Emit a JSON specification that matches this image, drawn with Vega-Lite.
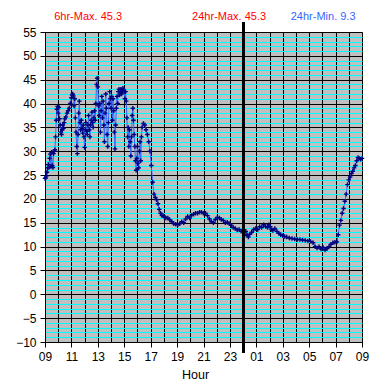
{
  "$schema": "https://vega.github.io/schema/vega-lite/v6.json",
  "width": 317,
  "height": 310,
  "autosize": "none",
  "padding": {"left": 45, "top": 32, "right": 23, "bottom": 46},
  "background": "white",
  "config": {
    "view": {"fill": "#C0C0C0", "stroke": "#808080", "strokeWidth": 1},
    "font": "Liberation Sans"
  },
  "data": {"values": [
    {"h": 9.00, "t": 24.3}, {"h": 9.05, "t": 24.4}, {"h": 9.10, "t": 24.8}, {"h": 9.15, "t": 25.6}, {"h": 9.20, "t": 26.5},
    {"h": 9.25, "t": 27.2}, {"h": 9.30, "t": 26.6}, {"h": 9.35, "t": 28.5}, {"h": 9.40, "t": 29.4}, {"h": 9.45, "t": 26.8},
    {"h": 9.50, "t": 29.8}, {"h": 9.55, "t": 27.0}, {"h": 9.60, "t": 26.6}, {"h": 9.65, "t": 29.5}, {"h": 9.70, "t": 30.0},
    {"h": 9.75, "t": 30.3}, {"h": 9.80, "t": 33.0}, {"h": 9.85, "t": 36.5}, {"h": 9.90, "t": 38.8}, {"h": 9.95, "t": 39.4},
    {"h": 10.00, "t": 38.0}, {"h": 10.05, "t": 39.2}, {"h": 10.10, "t": 36.8}, {"h": 10.15, "t": 35.5}, {"h": 10.20, "t": 34.0},
    {"h": 10.25, "t": 33.5}, {"h": 10.30, "t": 34.5}, {"h": 10.35, "t": 35.5}, {"h": 10.40, "t": 34.8}, {"h": 10.45, "t": 36.0},
    {"h": 10.50, "t": 36.8}, {"h": 10.58, "t": 37.2}, {"h": 10.67, "t": 38.0}, {"h": 10.75, "t": 38.5}, {"h": 10.83, "t": 39.0},
    {"h": 10.92, "t": 40.0}, {"h": 11.00, "t": 41.2}, {"h": 11.05, "t": 41.8}, {"h": 11.10, "t": 42.0}, {"h": 11.15, "t": 41.6},
    {"h": 11.20, "t": 39.5}, {"h": 11.25, "t": 41.0}, {"h": 11.30, "t": 37.0}, {"h": 11.35, "t": 34.0}, {"h": 11.40, "t": 31.0},
    {"h": 11.45, "t": 29.5}, {"h": 11.50, "t": 33.5}, {"h": 11.55, "t": 38.0}, {"h": 11.60, "t": 40.5}, {"h": 11.65, "t": 36.0},
    {"h": 11.70, "t": 34.5}, {"h": 11.75, "t": 36.5}, {"h": 11.80, "t": 34.8}, {"h": 11.85, "t": 33.8}, {"h": 11.90, "t": 35.5},
    {"h": 11.95, "t": 33.0}, {"h": 12.00, "t": 30.8}, {"h": 12.05, "t": 34.5}, {"h": 12.10, "t": 36.0}, {"h": 12.15, "t": 34.2},
    {"h": 12.20, "t": 33.5}, {"h": 12.25, "t": 35.5}, {"h": 12.30, "t": 37.5}, {"h": 12.35, "t": 34.5}, {"h": 12.40, "t": 33.0},
    {"h": 12.45, "t": 35.5}, {"h": 12.50, "t": 36.5}, {"h": 12.55, "t": 38.2}, {"h": 12.60, "t": 36.0}, {"h": 12.65, "t": 35.0},
    {"h": 12.70, "t": 37.0}, {"h": 12.75, "t": 38.5}, {"h": 12.80, "t": 36.5}, {"h": 12.85, "t": 40.0}, {"h": 12.90, "t": 44.0},
    {"h": 12.95, "t": 45.3}, {"h": 13.00, "t": 43.5}, {"h": 13.05, "t": 39.5}, {"h": 13.10, "t": 37.5}, {"h": 13.15, "t": 40.0},
    {"h": 13.20, "t": 34.0}, {"h": 13.25, "t": 38.5}, {"h": 13.30, "t": 41.5}, {"h": 13.35, "t": 37.0}, {"h": 13.40, "t": 40.5},
    {"h": 13.45, "t": 35.5}, {"h": 13.50, "t": 32.0}, {"h": 13.55, "t": 38.0}, {"h": 13.60, "t": 42.0}, {"h": 13.65, "t": 39.0},
    {"h": 13.70, "t": 33.5}, {"h": 13.75, "t": 31.0}, {"h": 13.80, "t": 36.0}, {"h": 13.85, "t": 40.0}, {"h": 13.90, "t": 42.5},
    {"h": 13.95, "t": 41.0}, {"h": 14.00, "t": 39.0}, {"h": 14.05, "t": 41.5}, {"h": 14.10, "t": 36.5}, {"h": 14.15, "t": 41.0},
    {"h": 14.20, "t": 38.5}, {"h": 14.25, "t": 34.0}, {"h": 14.30, "t": 30.5}, {"h": 14.35, "t": 35.5}, {"h": 14.40, "t": 39.0},
    {"h": 14.45, "t": 41.5}, {"h": 14.50, "t": 40.0}, {"h": 14.55, "t": 42.5}, {"h": 14.60, "t": 43.0}, {"h": 14.65, "t": 41.8},
    {"h": 14.70, "t": 42.5}, {"h": 14.75, "t": 43.0}, {"h": 14.80, "t": 42.0}, {"h": 14.85, "t": 42.5}, {"h": 14.90, "t": 43.2},
    {"h": 14.95, "t": 42.8}, {"h": 15.00, "t": 42.5}, {"h": 15.05, "t": 41.0}, {"h": 15.10, "t": 42.5}, {"h": 15.15, "t": 40.5},
    {"h": 15.20, "t": 37.0}, {"h": 15.25, "t": 33.0}, {"h": 15.30, "t": 35.0}, {"h": 15.35, "t": 31.0}, {"h": 15.40, "t": 34.5},
    {"h": 15.45, "t": 32.0}, {"h": 15.50, "t": 29.0}, {"h": 15.55, "t": 33.0}, {"h": 15.60, "t": 37.5}, {"h": 15.65, "t": 39.0},
    {"h": 15.70, "t": 36.5}, {"h": 15.75, "t": 33.5}, {"h": 15.80, "t": 31.0}, {"h": 15.85, "t": 28.0}, {"h": 15.90, "t": 26.0},
    {"h": 15.95, "t": 28.5}, {"h": 16.00, "t": 31.0}, {"h": 16.05, "t": 27.5}, {"h": 16.10, "t": 26.5}, {"h": 16.15, "t": 30.0},
    {"h": 16.20, "t": 32.0}, {"h": 16.25, "t": 28.0}, {"h": 16.30, "t": 33.0}, {"h": 16.35, "t": 35.0}, {"h": 16.45, "t": 35.8},
    {"h": 16.55, "t": 35.5}, {"h": 16.65, "t": 34.5}, {"h": 16.75, "t": 33.5}, {"h": 16.85, "t": 32.0}, {"h": 16.95, "t": 30.0},
    {"h": 17.05, "t": 27.0}, {"h": 17.15, "t": 23.5}, {"h": 17.25, "t": 21.0}, {"h": 17.35, "t": 20.3}, {"h": 17.45, "t": 19.8},
    {"h": 17.55, "t": 19.0}, {"h": 17.65, "t": 17.8}, {"h": 17.75, "t": 17.0}, {"h": 17.85, "t": 16.5}, {"h": 17.95, "t": 16.5},
    {"h": 18.05, "t": 16.2}, {"h": 18.15, "t": 16.0}, {"h": 18.30, "t": 16.0}, {"h": 18.45, "t": 15.6}, {"h": 18.60, "t": 15.2},
    {"h": 18.75, "t": 14.8}, {"h": 18.90, "t": 14.7}, {"h": 19.05, "t": 14.6}, {"h": 19.20, "t": 14.8}, {"h": 19.35, "t": 15.2},
    {"h": 19.50, "t": 15.0}, {"h": 19.65, "t": 15.8}, {"h": 19.80, "t": 16.3}, {"h": 19.95, "t": 16.0}, {"h": 20.10, "t": 16.6},
    {"h": 20.25, "t": 16.8}, {"h": 20.40, "t": 17.0}, {"h": 20.55, "t": 17.0}, {"h": 20.70, "t": 17.2}, {"h": 20.85, "t": 17.2},
    {"h": 21.00, "t": 17.0}, {"h": 21.15, "t": 17.0}, {"h": 21.30, "t": 16.5}, {"h": 21.45, "t": 15.8}, {"h": 21.60, "t": 15.2},
    {"h": 21.75, "t": 15.0}, {"h": 21.90, "t": 15.7}, {"h": 22.05, "t": 16.1}, {"h": 22.20, "t": 16.0}, {"h": 22.35, "t": 15.7},
    {"h": 22.50, "t": 15.5}, {"h": 22.65, "t": 15.0}, {"h": 22.80, "t": 15.1}, {"h": 22.95, "t": 14.8}, {"h": 23.10, "t": 14.5},
    {"h": 23.25, "t": 14.0}, {"h": 23.40, "t": 13.8}, {"h": 23.55, "t": 13.5}, {"h": 23.70, "t": 13.6}, {"h": 23.85, "t": 13.2},
    {"h": 24.00, "t": 13.0}, {"h": 24.10, "t": 12.3}, {"h": 24.20, "t": 13.2}, {"h": 24.30, "t": 12.5}, {"h": 24.40, "t": 12.0},
    {"h": 24.50, "t": 12.6}, {"h": 24.65, "t": 13.0}, {"h": 24.80, "t": 13.6}, {"h": 24.95, "t": 13.8}, {"h": 25.10, "t": 13.6},
    {"h": 25.25, "t": 14.2}, {"h": 25.40, "t": 14.0}, {"h": 25.55, "t": 14.6}, {"h": 25.70, "t": 14.2}, {"h": 25.85, "t": 14.0},
    {"h": 25.95, "t": 14.6}, {"h": 26.05, "t": 14.2}, {"h": 26.15, "t": 13.6}, {"h": 26.25, "t": 13.4}, {"h": 26.40, "t": 13.8},
    {"h": 26.55, "t": 13.2}, {"h": 26.70, "t": 12.8}, {"h": 26.85, "t": 12.5}, {"h": 27.00, "t": 12.3}, {"h": 27.15, "t": 12.1},
    {"h": 27.30, "t": 12.0}, {"h": 27.50, "t": 11.8}, {"h": 27.70, "t": 11.7}, {"h": 27.90, "t": 11.6}, {"h": 28.10, "t": 11.5},
    {"h": 28.30, "t": 11.5}, {"h": 28.50, "t": 11.4}, {"h": 28.70, "t": 11.3}, {"h": 28.90, "t": 11.2}, {"h": 29.10, "t": 11.1},
    {"h": 29.30, "t": 10.8}, {"h": 29.45, "t": 10.0}, {"h": 29.60, "t": 9.7}, {"h": 29.75, "t": 10.0}, {"h": 29.90, "t": 9.5},
    {"h": 30.05, "t": 9.8}, {"h": 30.20, "t": 9.3}, {"h": 30.35, "t": 9.6}, {"h": 30.50, "t": 10.0}, {"h": 30.65, "t": 10.5},
    {"h": 30.80, "t": 10.8}, {"h": 30.95, "t": 10.9}, {"h": 31.10, "t": 11.0}, {"h": 31.20, "t": 12.5}, {"h": 31.30, "t": 14.5},
    {"h": 31.40, "t": 15.5}, {"h": 31.50, "t": 17.0}, {"h": 31.60, "t": 18.0}, {"h": 31.70, "t": 19.5}, {"h": 31.80, "t": 21.0},
    {"h": 31.90, "t": 23.0}, {"h": 32.00, "t": 24.0}, {"h": 32.10, "t": 24.6}, {"h": 32.20, "t": 25.3}, {"h": 32.30, "t": 25.8},
    {"h": 32.40, "t": 26.5}, {"h": 32.50, "t": 27.0}, {"h": 32.60, "t": 28.0}, {"h": 32.70, "t": 28.7}, {"h": 32.80, "t": 28.5},
    {"h": 32.90, "t": 28.3}, {"h": 33.00, "t": 28.5}
  ]},
  "layer": [
    {
      "mark": {"type": "line", "color": "#3366FF", "strokeWidth": 1},
      "encoding": {
        "x": {
          "field": "h", "type": "quantitative",
          "scale": {"domain": [9, 33], "nice": false, "zero": false},
          "axis": {
            "orient": "top", "values": [12.23, 22.9, 30.02],
            "labelExpr": "datum.value < 15 ? '6hr-Max. 45.3' : (datum.value < 26 ? '24hr-Max. 45.3' : '24hr-Min. 9.3')",
            "labelColor": {"condition": {"test": "datum.value > 26", "value": "#3366FF"}, "value": "#FF0000"},
            "labelFontSize": 11, "labelFont": "Liberation Sans",
            "ticks": false, "domain": false, "grid": false, "title": null,
            "labelPadding": 13, "labelBaseline": "alphabetic",
            "labelOverlap": false, "labelFlush": false, "labelBound": false
          }
        },
        "y": {
          "field": "t", "type": "quantitative",
          "scale": {"domain": [-10, 55], "nice": false, "zero": false},
          "axis": {
            "values": [-10,-9,-8,-7,-6,-5,-4,-3,-2,-1,0,1,2,3,4,5,6,7,8,9,10,11,12,13,14,15,16,17,18,19,20,21,22,23,24,25,26,27,28,29,30,31,32,33,34,35,36,37,38,39,40,41,42,43,44,45,46,47,48,49,50,51,52,53,54,55],
            "labelExpr": "datum.value % 5 == 0 ? datum.label : ''",
            "grid": true,
            "gridColor": {"condition": {"test": "datum.value % 5 == 0", "value": "#000000"}, "value": "#00FFFF"},
            "gridOpacity": 1, "gridWidth": 1,
            "tickOpacity": {"condition": {"test": "datum.value % 5 == 0", "value": 1}, "value": 0},
            "tickColor": "#000000", "tickSize": 5, "domainColor": "#000000",
            "labelFontSize": 12, "labelColor": "#000000", "labelPadding": 4,
            "labelOverlap": false, "labelFlush": false, "title": null
          }
        }
      }
    },
    {
      "mark": {"type": "point", "shape": "M-1,0H1M0,-1V1", "size": 20, "filled": false, "stroke": "#000080", "strokeWidth": 1.4, "opacity": 1},
      "encoding": {
        "x": {
          "field": "h", "type": "quantitative",
          "scale": {"domain": [9, 33], "nice": false, "zero": false},
          "axis": {
            "orient": "bottom",
            "values": [9,10,11,12,13,14,15,16,17,18,19,20,21,22,23,24,25,26,27,28,29,30,31,32,33],
            "labelExpr": "datum.value % 2 == 1 ? (((datum.value % 24) < 10 ? '0' : '') + (datum.value % 24)) : ''",
            "grid": true, "gridColor": "#000000", "gridOpacity": 1, "gridWidth": 1,
            "tickOpacity": {"condition": {"test": "datum.value % 2 == 1", "value": 1}, "value": 0},
            "tickColor": "#000000", "tickSize": 5, "domainColor": "#000000",
            "labelFontSize": 12, "labelColor": "#000000", "labelPadding": 4,
            "labelOverlap": false, "labelFlush": false,
            "title": "Hour", "titleFontSize": 12.5, "titleFontWeight": "normal", "titleColor": "#000000",
            "titlePadding": 6, "titleX": 150
          }
        },
        "y": {"field": "t", "type": "quantitative", "scale": {"domain": [-10, 55], "nice": false, "zero": false}, "axis": null}
      }
    },
    {
      "mark": {"type": "rule", "color": "#000000", "strokeWidth": 2},
      "encoding": {
        "x": {"datum": 24, "scale": {"domain": [9, 33], "nice": false, "zero": false}, "axis": null},
        "y": {"datum": 57, "scale": {"domain": [-10, 55], "nice": false, "zero": false}, "axis": null},
        "y2": {"datum": -12.3}
      }
    }
  ],
  "resolve": {"axis": {"x": "independent", "y": "independent"}}
}
